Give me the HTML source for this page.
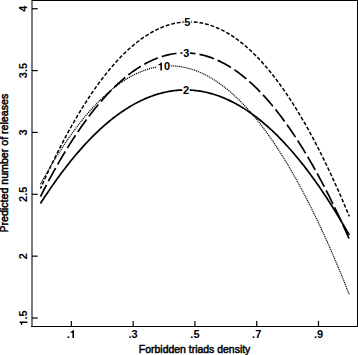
<!DOCTYPE html>
<html><head><meta charset="utf-8"><style>
html,body{margin:0;padding:0;background:#fff;}
svg{display:block;}
text{font-family:"Liberation Sans",sans-serif;}
</style></head><body>
<svg width="358" height="355" viewBox="0 0 358 355">
<rect width="358" height="355" fill="#fff"/>
<g fill="none" stroke="#000" stroke-linecap="butt">
<path d="M40.46,184.17 L43.58,178.52 L46.70,173.01 L49.82,167.64 L52.94,162.41 L56.06,157.31 L59.18,152.36 L62.30,147.54 L65.42,142.86 L68.54,138.32 L71.66,133.91 L74.78,129.65 L77.90,125.52 L81.01,121.53 L84.13,117.68 L87.25,113.96 L90.37,110.39 L93.49,106.95 L96.61,103.65 L99.73,100.48 L102.85,97.46 L105.97,94.57 L109.09,91.83 L112.21,89.21 L115.33,86.74 L118.45,84.41 L121.57,82.21 L124.69,80.15 L127.81,78.23 L130.93,76.45 L134.05,74.81 L137.17,73.30 L140.29,71.93 L143.41,70.70 L146.53,69.61 L149.65,68.65 L152.77,67.84 L155.89,67.16 L159.00,66.62 L162.12,66.22 L165.24,65.95 L168.36,65.83 L171.48,65.84 L174.60,65.99 L177.72,66.28 L180.84,66.70 L183.96,67.27 L187.08,67.97 L190.20,68.81 L193.32,69.78 L196.44,70.90 L199.56,72.15 L202.68,73.55 L205.80,75.08 L208.92,76.74 L212.04,78.55 L215.16,80.49 L218.28,82.57 L221.40,84.79 L224.52,87.15 L227.64,89.65 L230.76,92.28 L233.87,95.05 L236.99,97.96 L240.11,101.01 L243.23,104.20 L246.35,107.52 L249.47,110.98 L252.59,114.58 L255.71,118.32 L258.83,122.19 L261.95,126.21 L265.07,130.36 L268.19,134.65 L271.31,139.08 L274.43,143.64 L277.55,148.35 L280.67,153.19 L283.79,158.17 L286.91,163.29 L290.03,168.54 L293.15,173.93 L296.27,179.47 L299.39,185.14 L302.51,190.94 L305.63,196.89 L308.75,202.97 L311.86,209.19 L314.98,215.55 L318.10,222.05 L321.22,228.69 L324.34,235.46 L327.46,242.37 L330.58,249.42 L333.70,256.61 L336.82,263.94 L339.94,271.40 L343.06,279.00 L346.18,286.74 L349.30,294.62" stroke-width="1.2" stroke-dasharray="1.15 0.85"/>
<path d="M40.46,203.50 L42.01,201.08 L43.56,198.69 L45.12,196.32 L46.67,193.98 L48.22,191.67 L49.77,189.38 L51.32,187.12 L52.88,184.88 L54.43,182.67 L55.98,180.49 L57.53,178.33 L59.08,176.20 L60.64,174.09 L62.19,172.01 L63.74,169.96 L65.29,167.93 L66.84,165.93 L68.40,163.96 L69.95,162.01 L71.50,160.08 L73.05,158.18 L74.60,156.31 L76.16,154.47 L77.71,152.65 L79.26,150.85 L80.81,149.09 L82.36,147.35 L83.91,145.63 L85.47,143.94 L87.02,142.28 L88.57,140.64 L90.12,139.03 L91.67,137.44 L93.23,135.89 L94.78,134.35 L96.33,132.85 L97.88,131.36 L99.43,129.91 L100.99,128.48 L102.54,127.08 L104.09,125.70 L105.64,124.35 L107.19,123.02 L108.75,121.73 L110.30,120.45 L111.85,119.21 L113.40,117.99 L114.95,116.79 L116.51,115.62 L118.06,114.48 L119.61,113.36 L121.16,112.27 L122.71,111.21 L124.27,110.17 L125.82,109.16 L127.37,108.17 L128.92,107.21 L130.47,106.28 L132.03,105.37 L133.58,104.49 L135.13,103.63 L136.68,102.80 L138.23,101.99 L139.79,101.22 L141.34,100.46 L142.89,99.74 L144.44,99.04 L145.99,98.36 L147.55,97.72 L149.10,97.09 L150.65,96.50 L152.20,95.93 L153.75,95.38 L155.31,94.87 L156.86,94.37 L158.41,93.91 L159.96,93.47 L161.51,93.06 L163.06,92.67 L164.62,92.31 L166.17,91.97 L167.72,91.66 L169.27,91.38 L170.82,91.12 L172.38,90.89 L173.93,90.68 L175.48,90.50 L177.03,90.35 L178.58,90.22 L180.14,90.12 L181.69,90.05 L183.24,90.00 L184.79,89.97 L186.34,89.98 L187.90,90.00 L189.45,90.06 L191.00,90.14 L192.55,90.25 L194.10,90.38 L195.66,90.54 L197.21,90.72 L198.76,90.93 L200.31,91.17 L201.86,91.44 L203.42,91.72 L204.97,92.04 L206.52,92.38 L208.07,92.75 L209.62,93.14 L211.18,93.56 L212.73,94.01 L214.28,94.48 L215.83,94.97 L217.38,95.50 L218.94,96.05 L220.49,96.62 L222.04,97.22 L223.59,97.85 L225.14,98.50 L226.70,99.18 L228.25,99.89 L229.80,100.62 L231.35,101.38 L232.90,102.16 L234.45,102.97 L236.01,103.81 L237.56,104.67 L239.11,105.56 L240.66,106.47 L242.21,107.41 L243.77,108.38 L245.32,109.37 L246.87,110.39 L248.42,111.43 L249.97,112.50 L251.53,113.60 L253.08,114.72 L254.63,115.87 L256.18,117.04 L257.73,118.24 L259.29,119.47 L260.84,120.72 L262.39,122.00 L263.94,123.30 L265.49,124.63 L267.05,125.99 L268.60,127.37 L270.15,128.78 L271.70,130.22 L273.25,131.68 L274.81,133.16 L276.36,134.68 L277.91,136.21 L279.46,137.78 L281.01,139.37 L282.57,140.99 L284.12,142.63 L285.67,144.30 L287.22,145.99 L288.77,147.71 L290.33,149.46 L291.88,151.23 L293.43,153.03 L294.98,154.86 L296.53,156.71 L298.09,158.58 L299.64,160.49 L301.19,162.42 L302.74,164.37 L304.29,166.35 L305.85,168.36 L307.40,170.39 L308.95,172.45 L310.50,174.54 L312.05,176.65 L313.60,178.79 L315.16,180.95 L316.71,183.14 L318.26,185.35 L319.81,187.60 L321.36,189.86 L322.92,192.16 L324.47,194.48 L326.02,196.82 L327.57,199.19 L329.12,201.59 L330.68,204.02 L332.23,206.47 L333.78,208.94 L335.33,211.44 L336.88,213.97 L338.44,216.52 L339.99,219.10 L341.54,221.71 L343.09,224.34 L344.64,227.00 L346.20,229.68 L347.75,232.39 L349.30,235.13" stroke-width="1.7"/>
<path d="M40.46,196.60 L42.01,193.53 L43.56,190.49 L45.12,187.49 L46.67,184.52 L48.22,181.58 L49.77,178.67 L51.32,175.80 L52.88,172.96 L54.43,170.15 L55.98,167.38 L57.53,164.64 L59.08,161.93 L60.64,159.26 L62.19,156.62 L63.74,154.01 L65.29,151.44 L66.84,148.90 L68.40,146.39 L69.95,143.92 L71.50,141.48 L73.05,139.07 L74.60,136.70 L76.16,134.35 L77.71,132.05 L79.26,129.77 L80.81,127.53 L82.36,125.32 L83.91,123.14 L85.47,121.00 L87.02,118.89 L88.57,116.82 L90.12,114.77 L91.67,112.76 L93.23,110.79 L94.78,108.84 L96.33,106.93 L97.88,105.06 L99.43,103.21 L100.99,101.40 L102.54,99.63 L104.09,97.88 L105.64,96.17 L107.19,94.49 L108.75,92.85 L110.30,91.24 L111.85,89.66 L113.40,88.11 L114.95,86.60 L116.51,85.12 L118.06,83.68 L119.61,82.26 L121.16,80.89 L122.71,79.54 L124.27,78.23 L125.82,76.95 L127.37,75.70 L128.92,74.49 L130.47,73.31 L132.03,72.16 L133.58,71.05 L135.13,69.97 L136.68,68.92 L138.23,67.90 L139.79,66.92 L141.34,65.98 L142.89,65.06 L144.44,64.18 L145.99,63.33 L147.55,62.52 L149.10,61.73 L150.65,60.99 L152.20,60.27 L153.75,59.59 L155.31,58.94 L156.86,58.32 L158.41,57.74 L159.96,57.19 L161.51,56.67 L163.06,56.19 L164.62,55.74 L166.17,55.32 L167.72,54.94 L169.27,54.59 L170.82,54.27 L172.38,53.99 L173.93,53.74 L175.48,53.52 L177.03,53.33 L178.58,53.18 L180.14,53.06 L181.69,52.98 L183.24,52.93 L184.79,52.91 L186.34,52.92 L187.90,52.97 L189.45,53.05 L191.00,53.16 L192.55,53.31 L194.10,53.49 L195.66,53.71 L197.21,53.95 L198.76,54.23 L200.31,54.55 L201.86,54.89 L203.42,55.27 L204.97,55.68 L206.52,56.13 L208.07,56.61 L209.62,57.12 L211.18,57.67 L212.73,58.24 L214.28,58.86 L215.83,59.50 L217.38,60.18 L218.94,60.89 L220.49,61.63 L222.04,62.41 L223.59,63.22 L225.14,64.07 L226.70,64.94 L228.25,65.85 L229.80,66.80 L231.35,67.77 L232.90,68.78 L234.45,69.83 L236.01,70.90 L237.56,72.01 L239.11,73.16 L240.66,74.33 L242.21,75.54 L243.77,76.78 L245.32,78.06 L246.87,79.37 L248.42,80.71 L249.97,82.08 L251.53,83.49 L253.08,84.93 L254.63,86.41 L256.18,87.91 L257.73,89.45 L259.29,91.03 L260.84,92.64 L262.39,94.28 L263.94,95.95 L265.49,97.66 L267.05,99.40 L268.60,101.17 L270.15,102.98 L271.70,104.81 L273.25,106.69 L274.81,108.59 L276.36,110.53 L277.91,112.50 L279.46,114.51 L281.01,116.55 L282.57,118.62 L284.12,120.72 L285.67,122.86 L287.22,125.03 L288.77,127.24 L290.33,129.48 L291.88,131.75 L293.43,134.05 L294.98,136.39 L296.53,138.76 L298.09,141.16 L299.64,143.60 L301.19,146.07 L302.74,148.57 L304.29,151.11 L305.85,153.68 L307.40,156.28 L308.95,158.91 L310.50,161.58 L312.05,164.29 L313.60,167.02 L315.16,169.79 L316.71,172.59 L318.26,175.43 L319.81,178.29 L321.36,181.19 L322.92,184.13 L324.47,187.10 L326.02,190.10 L327.57,193.13 L329.12,196.20 L330.68,199.30 L332.23,202.43 L333.78,205.60 L335.33,208.80 L336.88,212.03 L338.44,215.30 L339.99,218.60 L341.54,221.93 L343.09,225.30 L344.64,228.69 L346.20,232.13 L347.75,235.59 L349.30,239.09" stroke-width="1.7" stroke-dasharray="15.1 4.03" stroke-dashoffset="1.81"/>
<path d="M40.46,188.58 L42.01,185.11 L43.56,181.68 L45.12,178.28 L46.67,174.93 L48.22,171.60 L49.77,168.32 L51.32,165.07 L52.88,161.86 L54.43,158.68 L55.98,155.54 L57.53,152.44 L59.08,149.37 L60.64,146.34 L62.19,143.34 L63.74,140.39 L65.29,137.46 L66.84,134.58 L68.40,131.73 L69.95,128.92 L71.50,126.14 L73.05,123.40 L74.60,120.70 L76.16,118.03 L77.71,115.40 L79.26,112.81 L80.81,110.25 L82.36,107.73 L83.91,105.25 L85.47,102.80 L87.02,100.39 L88.57,98.02 L90.12,95.68 L91.67,93.38 L93.23,91.11 L94.78,88.88 L96.33,86.69 L97.88,84.53 L99.43,82.41 L100.99,80.33 L102.54,78.28 L104.09,76.27 L105.64,74.30 L107.19,72.36 L108.75,70.46 L110.30,68.60 L111.85,66.77 L113.40,64.98 L114.95,63.22 L116.51,61.50 L118.06,59.82 L119.61,58.17 L121.16,56.56 L122.71,54.99 L124.27,53.45 L125.82,51.95 L127.37,50.49 L128.92,49.06 L130.47,47.67 L132.03,46.32 L133.58,45.00 L135.13,43.72 L136.68,42.47 L138.23,41.26 L139.79,40.09 L141.34,38.96 L142.89,37.86 L144.44,36.79 L145.99,35.77 L147.55,34.78 L149.10,33.82 L150.65,32.91 L152.20,32.02 L153.75,31.18 L155.31,30.37 L156.86,29.60 L158.41,28.87 L159.96,28.17 L161.51,27.51 L163.06,26.88 L164.62,26.29 L166.17,25.74 L167.72,25.22 L169.27,24.74 L170.82,24.30 L172.38,23.89 L173.93,23.52 L175.48,23.19 L177.03,22.89 L178.58,22.63 L180.14,22.40 L181.69,22.21 L183.24,22.06 L184.79,21.95 L186.34,21.87 L187.90,21.83 L189.45,21.82 L191.00,21.85 L192.55,21.92 L194.10,22.02 L195.66,22.16 L197.21,22.33 L198.76,22.55 L200.31,22.80 L201.86,23.08 L203.42,23.40 L204.97,23.76 L206.52,24.16 L208.07,24.59 L209.62,25.05 L211.18,25.56 L212.73,26.10 L214.28,26.68 L215.83,27.29 L217.38,27.94 L218.94,28.63 L220.49,29.35 L222.04,30.11 L223.59,30.90 L225.14,31.73 L226.70,32.60 L228.25,33.51 L229.80,34.45 L231.35,35.43 L232.90,36.44 L234.45,37.49 L236.01,38.58 L237.56,39.70 L239.11,40.86 L240.66,42.06 L242.21,43.29 L243.77,44.56 L245.32,45.87 L246.87,47.21 L248.42,48.59 L249.97,50.00 L251.53,51.45 L253.08,52.94 L254.63,54.46 L256.18,56.03 L257.73,57.62 L259.29,59.26 L260.84,60.93 L262.39,62.63 L263.94,64.38 L265.49,66.15 L267.05,67.97 L268.60,69.82 L270.15,71.71 L271.70,73.64 L273.25,75.60 L274.81,77.60 L276.36,79.63 L277.91,81.70 L279.46,83.81 L281.01,85.95 L282.57,88.13 L284.12,90.35 L285.67,92.60 L287.22,94.89 L288.77,97.22 L290.33,99.58 L291.88,101.98 L293.43,104.41 L294.98,106.89 L296.53,109.39 L298.09,111.94 L299.64,114.52 L301.19,117.14 L302.74,119.79 L304.29,122.48 L305.85,125.21 L307.40,127.97 L308.95,130.77 L310.50,133.61 L312.05,136.48 L313.60,139.39 L315.16,142.33 L316.71,145.32 L318.26,148.34 L319.81,151.39 L321.36,154.48 L322.92,157.61 L324.47,160.77 L326.02,163.97 L327.57,167.21 L329.12,170.48 L330.68,173.79 L332.23,177.14 L333.78,180.52 L335.33,183.94 L336.88,187.40 L338.44,190.89 L339.99,194.42 L341.54,197.98 L343.09,201.58 L344.64,205.22 L346.20,208.90 L347.75,212.61 L349.30,216.35" stroke-width="1.5" stroke-dasharray="3.8 1.91" stroke-dashoffset="1.17"/>
</g>
<g font-size="11" font-weight="bold" fill="#000"><rect x="183.65" y="17.70" width="7.5" height="9" fill="#fff"/><text x="184.34" y="26.10">5</text><rect x="182.45" y="48.60" width="7.5" height="9" fill="#fff"/><text x="183.14" y="57.00">3</text><rect x="157.15" y="62.00" width="13.5" height="9" fill="#fff"/><text x="163.90" y="70.40">0</text><path d="M161.94,70.40 L161.94,62.59 L160.67,62.59 L160.48,63.25 L159.98,63.67 L159.43,63.97 L158.54,64.08 L158.54,65.27 L160.38,65.27 L160.38,70.40Z"/><rect x="182.25" y="85.70" width="7.5" height="9" fill="#fff"/><text x="182.94" y="94.10">2</text></g>
<rect x="31" y="0" width="2" height="327" fill="#7a7a7a"/>
<rect x="32" y="0" width="326" height="1" fill="#000"/>
<rect x="357" y="0" width="1" height="327" fill="#000"/>
<rect x="31" y="326" width="327" height="1" fill="#000"/>
<g stroke="#000" stroke-width="1.2"><line x1="32" x2="37.7" y1="8.72" y2="8.72"/><line x1="32" x2="37.7" y1="70.58" y2="70.58"/><line x1="32" x2="37.7" y1="132.43" y2="132.43"/><line x1="32" x2="37.7" y1="194.29" y2="194.29"/><line x1="32" x2="37.7" y1="256.15" y2="256.15"/><line x1="32" x2="37.7" y1="318.0" y2="318.0"/><line x1="71.35" x2="71.35" y1="321" y2="326"/><line x1="133.14" x2="133.14" y1="321" y2="326"/><line x1="194.92" x2="194.92" y1="321" y2="326"/><line x1="256.71" x2="256.71" y1="321" y2="326"/><line x1="318.49" x2="318.49" y1="321" y2="326"/></g>
<g font-size="11" font-weight="bold" fill="#000"><g transform="translate(27.4,8.72) rotate(-90)"><text x="-3.06" y="0.00">4</text></g><g transform="translate(27.4,70.58) rotate(-90)"><text x="-7.65" y="0.00">3</text><text x="-1.53" y="0.00">.</text><text x="1.53" y="0.00">5</text></g><g transform="translate(27.4,132.43) rotate(-90)"><text x="-3.06" y="0.00">3</text></g><g transform="translate(27.4,194.29) rotate(-90)"><text x="-7.65" y="0.00">2</text><text x="-1.53" y="0.00">.</text><text x="1.53" y="0.00">5</text></g><g transform="translate(27.4,256.15) rotate(-90)"><text x="-3.06" y="0.00">2</text></g><g transform="translate(27.4,318.0) rotate(-90)"><text x="-1.53" y="0.00">.</text><text x="1.53" y="0.00">5</text><path d="M-3.49,0.00 L-3.49,-7.81 L-4.76,-7.81 L-4.95,-7.15 L-5.45,-6.73 L-6.00,-6.43 L-6.89,-6.32 L-6.89,-5.13 L-5.05,-5.13 L-5.05,0.00Z"/></g><text x="66.76" y="338.00">.</text><path d="M73.98,338.00 L73.98,330.19 L72.70,330.19 L72.52,330.85 L72.02,331.27 L71.47,331.56 L70.58,331.68 L70.58,332.87 L72.42,332.87 L72.42,338.00Z"/><text x="128.55" y="338.00">.</text><text x="131.61" y="338.00">3</text><text x="190.33" y="338.00">.</text><text x="193.39" y="338.00">5</text><text x="252.12" y="338.00">.</text><text x="255.18" y="338.00">7</text><text x="313.90" y="338.00">.</text><text x="316.96" y="338.00">9</text></g>
<g font-size="10.8" stroke="#000" stroke-width="0.5" fill="#000">
<text x="194.6" y="352.6" text-anchor="middle" textLength="111.5" lengthAdjust="spacingAndGlyphs">Forbidden triads density</text>
<text transform="translate(7.6,163.2) rotate(-90)" text-anchor="middle" textLength="138.8" lengthAdjust="spacingAndGlyphs">Predicted number of releases</text>
</g>
</svg>
</body></html>
